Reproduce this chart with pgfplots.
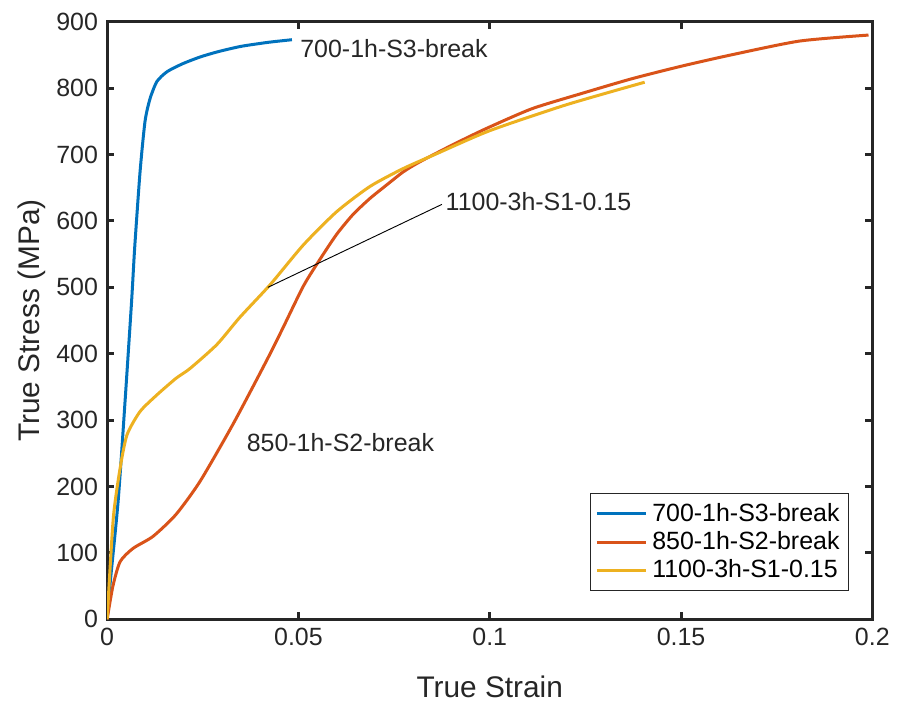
\documentclass[border={1.6mm 1.2mm 0.4mm 0.8mm}]{standalone}
\usepackage{pgfplots}
\pgfplotsset{compat=1.18}
\usepackage{fontspec}
\setmainfont{Liberation Sans}
\definecolor{mblue}{rgb}{0,0.447,0.741}
\definecolor{morange}{rgb}{0.85,0.325,0.098}
\definecolor{myellow}{rgb}{0.929,0.694,0.125}
\definecolor{axgray}{rgb}{0.15,0.15,0.15}
\begin{document}
\begin{tikzpicture}
\begin{axis}[
    scale only axis,
    width=11.64cm,
    height=9.09cm,
    xmin=0, xmax=0.2,
    ymin=0, ymax=900,
    xtick={0,0.05,0.1,0.15,0.2},
    xticklabels={0,0.05,0.1,0.15,0.2},
    ytick={0,100,...,900},
    tick align=inside,
    major tick length=1.1mm,
    axis line style={axgray},
    every tick/.style={axgray},
    tick label style={font=\fontsize{10.8}{13}\selectfont, text=axgray},
    label style={font=\fontsize{12.9}{15}\selectfont, text=axgray},
    xlabel={True Strain},
    ylabel={True Stress (MPa)},
    xlabel style={yshift=-2mm},
    ylabel style={yshift=-1mm},
    legend style={at={(0.97,0.047)}, anchor=south east, font=\fontsize{10.8}{13}\selectfont,
        draw=axgray, line width=0.5pt, inner sep=2pt, row sep=-1pt},
    legend cell align=left,
    legend image code/.code={\draw[#1, line width=1.3pt] (0cm,0cm) -- (0.75cm,0cm);},
    line width=1.3pt,
    /pgf/number format/assume math mode=true,
]
\addplot[mblue, smooth, tension=0.4] coordinates {
(0,0) (0.0008,55) (0.0029,180) (0.0047,330) (0.0064,480) (0.0072,560)
(0.0086,674) (0.0099,750) (0.0112,784) (0.013,810) (0.0157,825)
(0.0198,837) (0.0243,847) (0.029,855) (0.035,863) (0.042,869) (0.0483,873)
};
\addlegendentry{700-1h-S3-break}
\addplot[morange, smooth, tension=0.4] coordinates {
(0,0) (0.0015,50) (0.0034,87) (0.0068,107) (0.012,125) (0.018,158)
(0.0243,208) (0.033,295) (0.0417,390) (0.0457,436) (0.0513,502)
(0.0556,542) (0.060,580) (0.0643,610) (0.0687,634) (0.073,654)
(0.0774,674) (0.0817,689) (0.0904,715) (0.099,739) (0.111,769)
(0.124,792) (0.137,814) (0.150,833) (0.163,850) (0.181,871) (0.199,880)
};
\addlegendentry{850-1h-S2-break}
\addplot[myellow, smooth, tension=0.4] coordinates {
(0,0) (0.0016,152) (0.0034,228) (0.0052,278) (0.0086,313) (0.013,338)
(0.018,363) (0.0217,378) (0.0287,414) (0.0347,455) (0.0426,504)
(0.0513,564) (0.060,614) (0.0687,652) (0.0774,679) (0.086,701)
(0.1,736) (0.12,775) (0.1405,809)
};
\addlegendentry{1100-3h-S1-0.15}
\addplot[black, line width=0.4pt, forget plot] coordinates {(0.042,500) (0.0875,625)};
\node[anchor=west, inner sep=1pt, font=\fontsize{10.8}{13}\selectfont, text=axgray] at (axis cs:0.0875,629) {1100-3h-S1-0.15};
\node[anchor=west, inner sep=1pt, font=\fontsize{10.8}{13}\selectfont, text=axgray] at (axis cs:0.0355,266) {850-1h-S2-break};
\node[anchor=west, inner sep=1pt, font=\fontsize{10.8}{13}\selectfont, text=axgray] at (axis cs:0.0495,859) {700-1h-S3-break};
\end{axis}
\end{tikzpicture}
\end{document}
